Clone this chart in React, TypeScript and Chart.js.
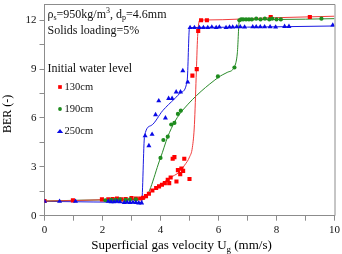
import React, { useEffect, useRef } from 'react';
import { Chart, registerables } from 'chart.js';

Chart.register(...registerables);

const SERIF = '"Liberation Serif", "Times New Roman", serif';

// Measured bed expansion ratio, initial water level 130 cm
const velocity130 = [0, 0.98, 1.98, 2.2, 2.35, 2.5, 2.65, 2.8, 3.0, 3.15, 3.3, 3.4, 3.5, 3.6, 3.72, 3.85, 3.95, 4.05, 4.15, 4.25, 4.3, 4.35, 4.42, 4.48, 4.55, 4.6, 4.68, 4.72, 4.78, 4.82, 5.0, 5.1, 5.25, 5.3, 5.4, 5.6, 7.8, 9.15];
const ber130 = [0.9, 0.94, 1.0, 1.0, 1.02, 1.05, 1.0, 1.02, 1.08, 1.05, 1.06, 1.1, 1.2, 1.35, 1.55, 1.7, 1.8, 1.9, 2.0, 2.2, 2.0, 2.35, 3.5, 3.6, 2.1, 2.8, 2.55, 2.9, 2.75, 3.5, 2.25, 8.6, 9.0, 11.35, 12.0, 12.0, 12.2, 12.2];

// Initial water level 190 cm
const velocity190 = [2.1, 2.3, 2.45, 2.6, 2.8, 2.95, 3.15, 4.0, 4.1, 4.25, 4.37, 4.48, 4.6, 4.7, 5.98, 6.55, 6.72, 6.78, 6.85, 6.95, 7.05, 7.15, 7.3, 7.45, 7.6, 7.75, 7.85, 8.0, 8.15, 9.55];
const ber190 = [0.95, 0.97, 0.98, 1.0, 0.97, 1.0, 1.0, 3.55, 4.65, 4.85, 5.6, 5.7, 6.25, 6.45, 8.55, 9.1, 12.0, 12.05, 12.05, 12.05, 12.05, 12.05, 12.1, 12.05, 12.1, 12.05, 12.1, 12.05, 12.05, 12.1];

// Initial water level 250 cm
const velocity250 = [0, 0.52, 1.07, 2.2, 2.3, 2.4, 2.5, 2.6, 2.75, 2.85, 2.95, 3.05, 3.15, 3.25, 3.35, 3.47, 3.6, 3.71, 3.83, 3.94, 4.17, 4.28, 4.4, 4.54, 4.69, 4.77, 4.94, 5.02, 5.17, 5.34, 5.48, 5.63, 5.77, 5.92, 6.03, 6.26, 6.38, 6.49, 6.63, 6.75, 6.9, 7.18, 7.3, 7.44, 7.59, 7.78, 7.97, 8.28, 8.43, 9.94];
const ber250 = [0.88, 0.88, 0.88, 0.88, 0.85, 0.85, 0.88, 0.85, 0.8, 0.82, 0.8, 0.82, 0.8, 0.78, 0.78, 4.9, 4.3, 5.0, 6.2, 7.05, 6.0, 7.2, 7.2, 7.6, 7.6, 8.9, 8.2, 11.55, 11.55, 11.55, 11.55, 11.55, 11.58, 11.55, 11.58, 11.55, 11.58, 11.58, 11.6, 11.6, 11.58, 11.6, 11.6, 11.6, 11.6, 11.6, 11.58, 11.62, 11.62, 11.7];

// Smoothed trend curves
const fitVelocity130 = [0, 1, 2, 3, 3.4, 3.7, 4.0, 4.3, 4.66, 4.83, 5.0, 5.1, 5.17, 5.23, 5.28, 5.35, 5.6, 7.8, 10];
const fitBer130 = [0.9, 0.93, 0.98, 1.03, 1.08, 1.5, 1.9, 2.3, 2.7, 3.1, 3.6, 4.2, 5.6, 8.5, 11.0, 12.0, 12.02, 12.15, 12.25];
const fitVelocity190 = [0, 2, 3.4, 4.0, 4.25, 4.5, 4.8, 6.0, 6.3, 6.55, 6.65, 6.72, 8, 10];
const fitBer190 = [0.9, 0.97, 1.0, 3.55, 4.85, 5.8, 6.55, 8.5, 8.8, 9.15, 10.0, 12.0, 12.05, 12.1];
const fitVelocity250 = [0, 3.35, 3.45, 3.68, 4.08, 4.48, 4.71, 4.92, 5.0, 6, 8, 10];
const fitBer250 = [0.88, 0.82, 4.9, 5.54, 6.46, 7.17, 7.57, 8.3, 11.55, 11.57, 11.6, 11.65];

const seriesLabels = ['130cm', '190cm', '250cm'];
const markerColors = ['#ff0000', '#1e8c1e', '#0a0ae6'];
const lineColors = ['#f03c3c', '#2a8a2a', '#1a1ae0'];
const markerStyles = ['rect', 'circle', 'triangle'];
const markerRadii = [2.9, 2.1, 2.9];

const xTickStep = 1;
const yTickStep = 1.5;

const toPoints = (xs: number[], ys: number[]) => xs.map((x, i) => ({ x, y: ys[i] }));

type Run = { t: string; sub?: boolean; sup?: boolean };

function drawRuns(ctx: CanvasRenderingContext2D, runs: Run[], x: number, y: number, size: number) {
  let cx = x;
  for (const r of runs) {
    const small = r.sub || r.sup;
    ctx.font = `${small ? Math.round(size * 0.68) : size}px ${SERIF}`;
    const dy = r.sub ? size * 0.28 : r.sup ? -size * 0.38 : 0;
    ctx.fillText(r.t, cx, y + dy);
    cx += ctx.measureText(r.t).width;
  }
  return cx - x;
}

function measureRuns(ctx: CanvasRenderingContext2D, runs: Run[], size: number) {
  let w = 0;
  for (const r of runs) {
    const small = r.sub || r.sup;
    ctx.font = `${small ? Math.round(size * 0.68) : size}px ${SERIF}`;
    w += ctx.measureText(r.t).width;
  }
  return w;
}

const propertyLine: Run[] = [
  { t: 'ρ' }, { t: 's', sub: true }, { t: '=950kg/m' }, { t: '3', sup: true },
  { t: ', d' }, { t: 'p', sub: true }, { t: '=4.6mm' },
];
const loadingLine: Run[] = [{ t: 'Solids loading=5%' }];
const legendTitle = 'Initial water level';
const xTitle: Run[] = [{ t: 'Superficial gas velocity U' }, { t: 'g', sub: true }, { t: ' (mm/s)' }];
const yTitle = 'BER (-)';

function drawMarker(ctx: CanvasRenderingContext2D, style: string, x: number, y: number, r: number, color: string) {
  ctx.fillStyle = color;
  ctx.beginPath();
  if (style === 'rect') {
    const s = r * Math.SQRT1_2;
    ctx.rect(x - s, y - s, 2 * s, 2 * s);
  } else if (style === 'circle') {
    ctx.arc(x, y, r, 0, Math.PI * 2);
  } else {
    const h = r * 1.5;
    ctx.moveTo(x, y - h * 0.66);
    ctx.lineTo(x + r * 1.2, y + h * 0.4);
    ctx.lineTo(x - r * 1.2, y + h * 0.4);
    ctx.closePath();
  }
  ctx.fill();
}

const annotations = {
  id: 'berAnnotations',
  afterDraw(chart: any) {
    const { ctx, chartArea } = chart;
    const { left, right, top, bottom } = chartArea;
    ctx.save();

    // close the plot frame on the top and right
    ctx.strokeStyle = '#8c8c8c';
    ctx.lineWidth = 1;
    ctx.beginPath();
    ctx.moveTo(left, top + 0.5);
    ctx.lineTo(right + 0.5, top + 0.5);
    ctx.lineTo(right + 0.5, bottom);
    ctx.stroke();

    ctx.fillStyle = '#111';
    ctx.textBaseline = 'middle';
    ctx.textAlign = 'left';
    const tx = left + 3;
    drawRuns(ctx, propertyLine, tx, top + 11, 12);
    drawRuns(ctx, loadingLine, tx, top + 27, 12);

    ctx.font = `12px ${SERIF}`;
    ctx.fillText(legendTitle, tx, top + 64.5);

    const rows = [top + 83, top + 105, top + 127.5];
    seriesLabels.forEach((label, i) => {
      drawMarker(ctx, markerStyles[i], left + 15.5, rows[i], markerRadii[i] * 0.9, markerColors[i]);
      ctx.fillStyle = '#111';
      ctx.font = `10.5px ${SERIF}`;
      ctx.fillText(label, left + 20, rows[i]);
    });

    // axis titles
    ctx.fillStyle = '#000';
    const w = measureRuns(ctx, xTitle, 13);
    drawRuns(ctx, xTitle, (left + right) / 2 - 8 - w / 2, 246, 13);

    ctx.translate(8, (top + bottom) / 2 + 4);
    ctx.rotate(-Math.PI / 2);
    ctx.textAlign = 'center';
    ctx.font = `12px ${SERIF}`;
    ctx.fillText(yTitle, 0, 0);
    ctx.restore();
  },
};

export default function App() {
  const canvasRef = useRef<HTMLCanvasElement | null>(null);

  useEffect(() => {
    if (!canvasRef.current) return;
    const velocity = [velocity130, velocity190, velocity250];
    const ber = [ber130, ber190, ber250];
    const fitV = [fitVelocity130, fitVelocity190, fitVelocity250];
    const fitB = [fitBer130, fitBer190, fitBer250];

    const lineSets = seriesLabels.map((label, i) => ({
      label: `${label} trend`,
      data: toPoints(fitV[i], fitB[i]),
      showLine: true,
      borderColor: lineColors[i],
      borderWidth: 1,
      pointRadius: 0,
      cubicInterpolationMode: 'monotone' as const,
      order: 2,
    }));
    const markerSets = seriesLabels.map((label, i) => ({
      label,
      data: toPoints(velocity[i], ber[i]),
      showLine: false,
      pointStyle: markerStyles[i],
      pointRadius: markerRadii[i],
      backgroundColor: markerColors[i],
      borderColor: markerColors[i],
      borderWidth: 0,
      order: 1,
    }));

    const tickFont = { family: SERIF, size: 11 };
    const chart = new Chart(canvasRef.current, {
      type: 'scatter',
      data: { datasets: [...lineSets, ...markerSets.reverse()] as any },
      options: {
        animation: false,
        responsive: true,
        maintainAspectRatio: false,
        layout: { padding: { top: 2, right: 7.5, left: 0, bottom: 0 } },
        plugins: { legend: { display: false }, tooltip: { enabled: false } },
        scales: {
          x: {
            type: 'linear',
            min: 0,
            max: 10,
            afterFit: (s: any) => {
              s.height = 38.3;
              s.paddingLeft = 0;
              s.paddingRight = 0;
            },
            border: { display: true, color: '#8c8c8c' },
            grid: { drawOnChartArea: false, drawTicks: true, tickLength: 5, color: '#8c8c8c' },
            ticks: {
              stepSize: xTickStep,
              autoSkip: false,
              maxRotation: 0,
              padding: 3,
              color: '#111',
              font: tickFont,
              callback: (v: any) => (Number(v) % 2 === 0 ? String(v) : ''),
            },
          },
          y: {
            type: 'linear',
            min: 0,
            max: 13,
            afterFit: (s: any) => {
              s.width = 44.5;
              s.paddingTop = 0;
              s.paddingBottom = 0;
            },
            border: { display: true, color: '#8c8c8c' },
            grid: { drawOnChartArea: false, drawTicks: true, tickLength: 5, color: '#8c8c8c' },
            ticks: {
              stepSize: yTickStep,
              includeBounds: false,
              autoSkip: false,
              padding: 3,
              color: '#111',
              font: tickFont,
              callback: (v: any) => (Math.abs(Number(v) % 3) < 1e-6 ? String(v) : ''),
            },
          },
        },
      },
      plugins: [annotations],
    });
    return () => chart.destroy();
  }, []);

  return (
    <div style={{ position: 'fixed', left: 0, top: 0, width: 342, height: 254, background: '#fff' }}>
      <canvas ref={canvasRef} />
    </div>
  );
}
